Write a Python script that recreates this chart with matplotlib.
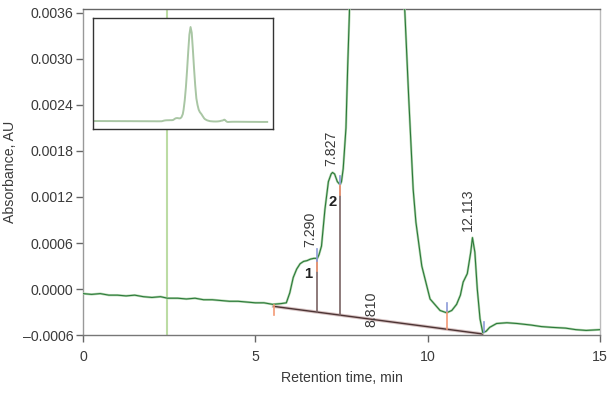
import numpy as np
import matplotlib
matplotlib.use("Agg")
import matplotlib.pyplot as plt
from matplotlib.ticker import FuncFormatter

plt.rcParams['font.family'] = ['Liberation Sans', 'DejaVu Sans']

# chromatogram trace (time in min, absorbance in AU)
trace_t = [0.0, 0.25, 0.5, 0.75, 1.0, 1.25, 1.5, 1.75, 2.0, 2.25, 2.45, 2.75,
           3.0, 3.25, 3.5, 3.75, 4.0, 4.25, 4.5, 4.75, 5.0, 5.25, 5.5, 5.75,
           5.9, 6.0, 6.1, 6.2, 6.3, 6.4, 6.5, 6.6, 6.7, 6.8, 6.85, 6.92, 7.02,
           7.12, 7.2, 7.24, 7.3, 7.38, 7.46, 7.5, 7.55, 7.63, 7.68, 7.73, 7.8,
           7.9, 8.0, 8.1, 8.2, 8.3, 8.4, 8.5, 8.6, 8.7, 8.8, 8.9, 9.0, 9.1,
           9.2, 9.34, 9.45, 9.58, 9.66, 9.83, 10.07, 10.36, 10.55, 10.7, 10.84,
           10.95, 11.03, 11.15, 11.25, 11.3, 11.37, 11.44, 11.52, 11.6, 11.7,
           11.8, 12.0, 12.3, 12.6, 13.0, 13.3, 13.6, 14.0, 14.3, 14.6, 15.0]
trace_v = [-0.00006, -0.00007, -0.00006, -0.00008, -0.00008, -0.00009, -0.00008,
           -0.0001, -0.00011, -0.0001, -0.00012, -0.00012, -0.00013, -0.00012,
           -0.00014, -0.00014, -0.00015, -0.00016, -0.00016, -0.00017, -0.00018,
           -0.00018, -0.0002, -0.00019, -0.00018, -0.00005, 0.00015, 0.00026,
           0.00033, 0.00036, 0.00037, 0.00039, 0.0004, 0.0004, 0.00045, 0.00056,
           0.00104, 0.0014, 0.0015, 0.00152, 0.0015, 0.0014, 0.00136, 0.0014,
           0.00157, 0.0021, 0.0029, 0.0036, 0.006, 0.011, 0.018, 0.027, 0.037,
           0.046, 0.05, 0.047, 0.038, 0.028, 0.019, 0.012, 0.0085, 0.006,
           0.0047, 0.0036, 0.0025, 0.0013, 0.00087, 0.0003, -0.00013, -0.00028,
           -0.00031, -0.00028, -0.0002, -0.00008, 0.00009, 0.0002, 0.00048,
           0.00067, 0.00048, 0.0, -0.00039, -0.00057, -0.00055, -0.0005,
           -0.00045, -0.00044, -0.00045, -0.00047, -0.00049, -0.0005, -0.00051,
           -0.00053, -0.00054, -0.00053]

# integration baseline and drop lines
base_t = [5.53, 11.59]
base_v = [-0.000226, -0.000586]
drop_t = [6.80, 7.46]
drop_top = [0.0004, 0.00137]

# orange / blue peak markers: (time, low, high)
orange_marks = [(5.53, -0.00034, -0.00021), (6.80, 0.00024, 0.00037),
                (7.46, 0.00122, 0.00137), (10.55, -0.00052, -0.00029)]
blue_marks = [(6.80, 0.00037, 0.00052), (7.46, 0.00137, 0.00147),
              (10.55, -0.00029, -0.00018), (11.64, -0.00056, -0.00043)]

rt_labels = ['7.290', '7.827', '8.810', '12.113']
rt_pos = [(6.59, 0.00078), (7.21, 0.00183), (8.38, -0.00027), (11.17, 0.00104)]
peak_names = ['1', '2']
peak_pos = [(6.53, 0.0002), (7.24, 0.00113)]

marker_time = 2.45

fs = 10.2

fig = plt.figure(figsize=(6.08, 3.94), dpi=100)
ax = fig.add_axes([0.1365, 0.1497, 0.8503, 0.8275])

ax.axvline(marker_time, color='#bcdca4', lw=1.5, zorder=1)

# baseline with a light edge
ax.plot(base_t, base_v, color='#d8c4c4', lw=2.4, zorder=2)
ax.plot(base_t, base_v, color='#4d3434', lw=1.0, zorder=3)

slope = (base_v[1] - base_v[0]) / (base_t[1] - base_t[0])
for t, top in zip(drop_t, drop_top):
    b = base_v[0] + slope * (t - base_t[0])
    ax.plot([t, t], [b, top], color='#7a6464', lw=1.2, zorder=3)

ax.plot(trace_t, trace_v, color='#b4d6b0', lw=1.7, zorder=4)
ax.plot(trace_t, trace_v, color='#2c7a3a', lw=0.8, zorder=5)

for t, lo, hi in orange_marks:
    ax.plot([t, t], [lo, hi], color='#f39a76', lw=1.2, zorder=6)
for t, lo, hi in blue_marks:
    ax.plot([t, t], [lo, hi], color='#8c9bd8', lw=1.2, zorder=6)

for s, (t, v) in zip(rt_labels, rt_pos):
    ax.text(t, v, s, rotation=90, ha='center', va='center', fontsize=fs,
            color='#3a3a3a', zorder=7)
for s, (t, v) in zip(peak_names, peak_pos):
    ax.text(t, v, s, ha='center', va='center', fontsize=fs + 0.5,
            fontweight='bold', color='#222222', zorder=7)

ax.set_xlim(0, 15)
ax.set_ylim(-0.0006, 0.003652)
ax.set_xticks([0, 5, 10, 15])
ax.set_yticks(np.arange(-0.0006, 0.00361, 0.0006))
ax.yaxis.set_major_formatter(FuncFormatter(lambda v, p: '{:.4f}'.format(v).replace('-', '\u2013')))
ax.tick_params(axis='both', labelsize=fs, labelcolor='#3a3a3a', color='#666666',
               length=5, width=1)
ax.tick_params(axis='x', pad=6)
ax.tick_params(axis='y', pad=2)

ax.spines['top'].set_color('#666666')
ax.spines['right'].set_color('#bbbbbb')
ax.spines['left'].set_color('#999999')
ax.spines['bottom'].set_color('#777777')
for sp in ax.spines.values():
    sp.set_linewidth(1)

ax.set_xlabel('Retention time, min', fontsize=fs, color='#3a3a3a', labelpad=5)
ax.set_ylabel('Absorbance, AU', fontsize=fs, color='#3a3a3a')
ax.yaxis.set_label_coords(-0.128, 0.5)

# inset with the whole chromatogram
inset = fig.add_axes([0.153, 0.6726, 0.296, 0.2817])
inset.plot(trace_t, trace_v, color='#a9c6a4', lw=1.4)
inset.set_xlim(0, 15.5)
inset.set_ylim(-0.0043, 0.0548)
inset.set_xticks([])
inset.set_yticks([])
for sp in inset.spines.values():
    sp.set_color('#333333')
    sp.set_linewidth(1)

fig.savefig('out.png', dpi=100)
